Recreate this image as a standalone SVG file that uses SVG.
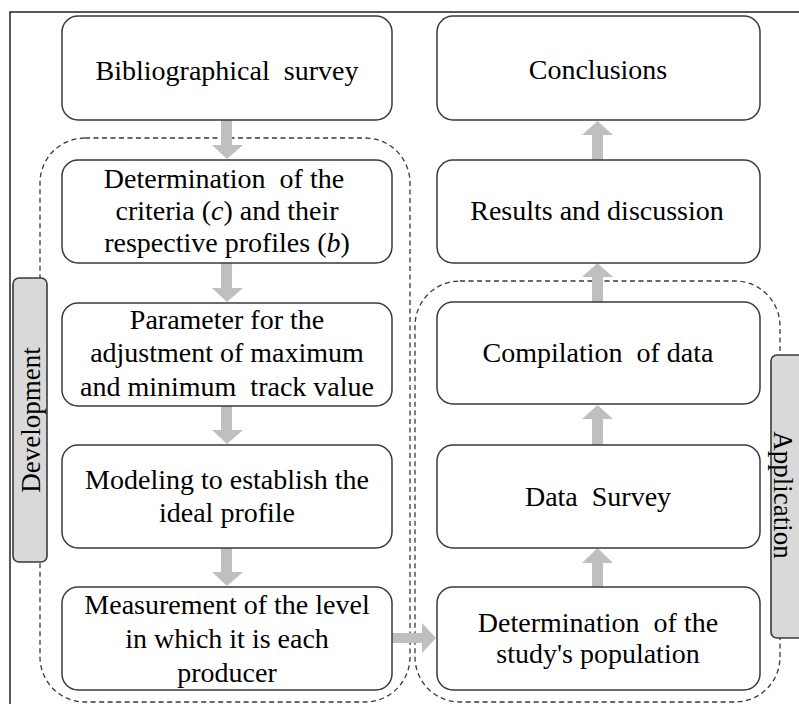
<svg xmlns="http://www.w3.org/2000/svg" width="799" height="704" viewBox="0 0 799 704" font-family="'Liberation Serif', 'Times New Roman', serif">
<defs>
<style>
.box{fill:#fff;stroke:#3a3a3a;stroke-width:1.5}
.grp{fill:none;stroke:#3a3a3a;stroke-width:1.3;stroke-dasharray:5 3.5}
.lbl{fill:#d9d9d9;stroke:#3a3a3a;stroke-width:1.6}
.t{font-family:'Liberation Serif','Times New Roman',serif;font-size:28px;fill:#000;text-anchor:middle;white-space:pre}
.v{font-family:'Liberation Serif','Times New Roman',serif;font-size:27px;fill:#000;text-anchor:middle}
.arr{fill:#bfbfbf}
</style>
</defs>
<rect width="799" height="704" fill="#fff"/>
<path d="M10 704 V12 H799" fill="none" stroke="#222" stroke-width="1.5"/>
<g id="groups">
<rect class="grp" x="40" y="138" width="370" height="564" rx="45"/>
<rect class="grp" x="415" y="281" width="365" height="421" rx="45"/>
</g>
<g id="connectors">
<path class="arr" d="M221 120 H232 V145 H243 L227 159 L212 145 H221 Z"/>
<path class="arr" d="M221 263 H232 V288 H243 L227 302 L212 288 H221 Z"/>
<path class="arr" d="M221 406 H232 V430 H243 L227 444 L212 430 H221 Z"/>
<path class="arr" d="M221 548 H232 V572 H243 L227 586 L212 572 H221 Z"/>
<path class="arr" d="M392 633 V643 H422 V653 L436 638 L422 623 V633 Z"/>
<path class="arr" d="M592 587 H603 V563 H613 L597.5 548 L582 563 H592 Z"/>
<path class="arr" d="M592 445 H603 V419 H613 L597.5 405 L582 419 H592 Z"/>
<path class="arr" d="M592 302 H603 V277 H613 L597.5 263 L582 277 H592 Z"/>
<path class="arr" d="M592 160 H603 V135 H613 L597.5 121 L582 135 H592 Z"/>
</g>
<g id="n1"><rect class="box" x="62" y="16" width="330" height="104" rx="16"/><text class="t" xml:space="preserve" x="227" y="80">Bibliographical  survey</text></g>
<g id="n2"><rect class="box" x="62" y="160" width="330" height="103" rx="16"/><text class="t" xml:space="preserve" x="224" y="188">Determination  of the</text><text class="t" x="227" y="220">criteria (<tspan font-style="italic">c</tspan>) and their</text><text class="t" x="227" y="252">respective profiles (<tspan font-style="italic">b</tspan>)</text></g>
<g id="n3"><rect class="box" x="62" y="303" width="330" height="103" rx="16"/><text class="t" x="227" y="329">Parameter for the</text><text class="t" x="227" y="362">adjustment of maximum</text><text class="t" xml:space="preserve" x="227" y="396">and minimum  track value</text></g>
<g id="n4"><rect class="box" x="62" y="445" width="330" height="103" rx="16"/><text class="t" x="227" y="489">Modeling to establish the</text><text class="t" x="227" y="522">ideal profile</text></g>
<g id="n5"><rect class="box" x="62" y="587" width="330" height="103" rx="16"/><text class="t" x="227" y="614">Measurement of the level</text><text class="t" x="227" y="648">in which it is each</text><text class="t" x="227" y="682">producer</text></g>
<g id="n6"><rect class="box" x="437" y="16" width="323" height="104" rx="16"/><text class="t" x="598" y="79">Conclusions</text></g>
<g id="n7"><rect class="box" x="437" y="160" width="323" height="103" rx="16"/><text class="t" x="597" y="220">Results and discussion</text></g>
<g id="n8"><rect class="box" x="437" y="302" width="323" height="102" rx="16"/><text class="t" xml:space="preserve" x="598" y="362">Compilation  of data</text></g>
<g id="n9"><rect class="box" x="437" y="445" width="323" height="103" rx="16"/><text class="t" xml:space="preserve" x="598" y="506">Data  Survey</text></g>
<g id="n10"><rect class="box" x="437" y="587" width="323" height="103" rx="16"/><text class="t" xml:space="preserve" x="598" y="632">Determination  of the</text><text class="t" x="598" y="663">study's population</text></g>
<g id="dev"><rect class="lbl" x="13" y="278" width="34" height="284" rx="6"/><text class="v" transform="translate(40 420) rotate(-90)">Development</text></g>
<g id="app"><rect class="lbl" x="771" y="355" width="40" height="283" rx="6"/><text class="v" transform="translate(774 495) rotate(90)">Application</text></g>
</svg>
